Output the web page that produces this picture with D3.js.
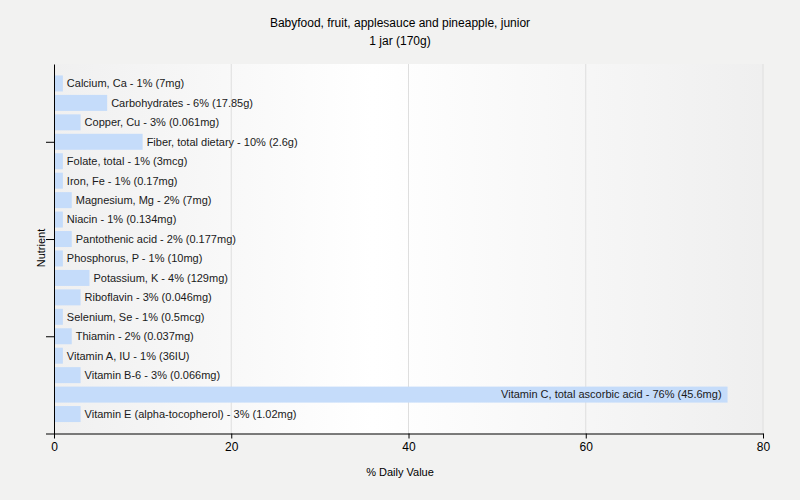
<html>
  <head>
    <script src="https://d3js.org/d3.v7.min.js"></script>
  </head>
  <style type="text/css">
    body { margin: 0; background: #f2f2f1; }
    svg { font-family: "Liberation Sans", Arial, sans-serif; }
    .axis path, .axis line { stroke: #000; }
    .axis text { font-size: 12px; fill: #000; }
    .grid line { stroke: #dedede; }
    .label { font-size: 11px; fill: #1a1a1a; }
  </style>
  <body>
    <div id="chart"></div>
  </body>
  <script type="text/javascript">
    var nutrients = ["Calcium, Ca", "Carbohydrates", "Copper, Cu", "Fiber, total dietary",
      "Folate, total", "Iron, Fe", "Magnesium, Mg", "Niacin", "Pantothenic acid",
      "Phosphorus, P", "Potassium, K", "Riboflavin", "Selenium, Se", "Thiamin",
      "Vitamin A, IU", "Vitamin B-6", "Vitamin C, total ascorbic acid",
      "Vitamin E (alpha-tocopherol)"];
    var percents = [1, 6, 3, 10, 1, 1, 2, 1, 2, 1, 4, 3, 1, 2, 1, 3, 76, 3];
    var amounts = ["7mg", "17.85g", "0.061mg", "2.6g", "3mcg", "0.17mg", "7mg", "0.134mg",
      "0.177mg", "10mg", "129mg", "0.046mg", "0.5mcg", "0.037mg", "36IU", "0.066mg",
      "45.6mg", "1.02mg"];
    var xTicks = [0, 20, 40, 60, 80];

    var width = 800, height = 500;
    var plotLeft = 54, plotRight = 763, plotTop = 64, plotBottom = 433.5;

    var svg = d3.select("#chart").append("svg")
      .attr("width", width)
      .attr("height", height);

    var xScale = d3.scaleLinear().domain([0, 80]).range([plotLeft, plotRight]);
    // categories counted from the bottom, 1..18
    var yScale = d3.scaleLinear().domain([0, nutrients.length + 1]).range([plotBottom, plotTop]);
    var barH = 16;

    /* plot background */
    var grad = svg.append("defs").append("linearGradient")
      .attr("id", "bg").attr("x1", "0%").attr("x2", "100%");
    grad.append("stop").attr("offset", "0%").attr("stop-color", "#f0f0f0");
    grad.append("stop").attr("offset", "45%").attr("stop-color", "#ffffff");
    grad.append("stop").attr("offset", "100%").attr("stop-color", "#efefef");

    svg.append("rect")
      .attr("x", plotLeft).attr("y", plotTop)
      .attr("width", plotRight - plotLeft).attr("height", plotBottom - plotTop)
      .attr("fill", "url(#bg)");

    /* grid */
    svg.append("g").attr("class", "grid")
      .selectAll("line")
      .data(xTicks.slice(1)).enter()
      .append("line")
      .attr("x1", d => xScale(d)).attr("x2", d => xScale(d))
      .attr("y1", plotTop).attr("y2", plotBottom);

    /* bars */
    var rows = svg.append("g").selectAll("g")
      .data(nutrients).enter()
      .append("g");

    rows.append("rect")
      .attr("x", plotLeft + 1)
      .attr("y", (d, i) => yScale(nutrients.length - i) - barH / 2)
      .attr("width", (d, i) => xScale(percents[i]) - plotLeft - 1)
      .attr("height", barH)
      .attr("fill", "#c5dcfa");

    rows.append("text")
      .attr("class", "label")
      .attr("y", (d, i) => yScale(nutrients.length - i))
      .attr("dy", "0.35em")
      .text((d, i) => d + " - " + percents[i] + "% (" + amounts[i] + ")")
      .each(function(d, i) {
        var end = xScale(percents[i]);
        var w = this.getComputedTextLength();
        if (end + 4 + w > plotRight) {
          d3.select(this).attr("x", end - 6).attr("text-anchor", "end");
        } else {
          d3.select(this).attr("x", end + 4);
        }
      });

    /* axes */
    svg.append("g")
      .attr("class", "x axis")
      .attr("transform", `translate(0, ${plotBottom})`)
      .call(d3.axisBottom(xScale).tickValues(xTicks).tickSize(5).tickSizeOuter(0).tickPadding(4));

    svg.append("g")
      .attr("class", "y axis")
      .attr("transform", `translate(${plotLeft}, 0)`)
      .call(d3.axisLeft(yScale).tickValues([0, 5, 10, 15]).tickSize(8).tickSizeOuter(0).tickFormat(""));

    /* titles */
    svg.append("text")
      .attr("x", width / 2).attr("y", 27)
      .attr("text-anchor", "middle")
      .style("font-size", "12px")
      .text("Babyfood, fruit, applesauce and pineapple, junior");
    svg.append("text")
      .attr("x", width / 2).attr("y", 45)
      .attr("text-anchor", "middle")
      .style("font-size", "12px")
      .text("1 jar (170g)");

    svg.append("text")
      .attr("x", width / 2).attr("y", 476)
      .attr("text-anchor", "middle")
      .style("font-size", "11px")
      .text("% Daily Value");

    svg.append("text")
      .attr("transform", "translate(45, 248) rotate(-90)")
      .attr("text-anchor", "middle")
      .style("font-size", "11px")
      .text("Nutrient");
  </script>
</html>
